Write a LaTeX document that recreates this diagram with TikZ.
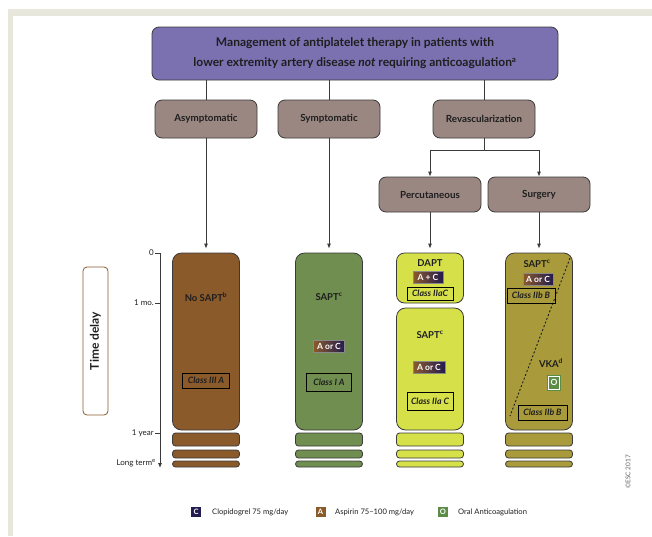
\documentclass[tikz,border=0pt]{standalone}
\usepackage{fontspec}
\setmainfont{Lato}
\usetikzlibrary{arrows.meta}
\definecolor{titlepurple}{HTML}{7B71B1}
\definecolor{taupe}{HTML}{9A8782}
\definecolor{brownc}{HTML}{8B5A2B}
\definecolor{greenc}{HTML}{6F8E50}
\definecolor{yellowc}{HTML}{D6E14A}
\definecolor{olivec}{HTML}{A99B3B}
\definecolor{navyc}{HTML}{231C4F}
\definecolor{legendgreen}{HTML}{5C8C46}
\definecolor{framec}{HTML}{E7E8DB}
\definecolor{edgec}{HTML}{3A3A3A}
\definecolor{textc}{HTML}{1E1E1E}
\tikzset{
  basebox/.style={draw=edgec, line width=0.8pt, rounded corners=7pt, inner sep=0pt, text=textc, align=center},
  titlebox/.style={basebox, fill=titlepurple, minimum width=406pt, minimum height=53pt, font=\bfseries\fontsize{12}{20}\selectfont},
  catbox/.style={basebox, fill=taupe, minimum width=102pt, minimum height=38pt, font=\bfseries\fontsize{9.8}{11}\selectfont},
  subbox/.style={catbox, minimum height=35pt},
  colbox/.style={basebox, rounded corners=9pt, minimum width=67pt},
  stripe/.style={basebox, rounded corners=3pt, minimum width=67pt},
  coltext/.style={font=\bfseries\fontsize{9.5}{10}\selectfont, text=textc, inner sep=0pt},
  classbox/.style={draw=black, line width=0.8pt, inner sep=0pt, font=\bfseries\itshape\fontsize{8.8}{9}\selectfont, text=textc},
  badge/.style={draw=edgec!60, line width=0.4pt, inner sep=0pt, text=white, font=\bfseries\fontsize{8.5}{9}\selectfont, left color=brownc, middle color=navyc, right color=navyc, minimum height=12pt},
  legbox/.style={inner sep=0pt, minimum width=10pt, minimum height=10pt, text=white, font=\bfseries\fontsize{7.5}{8}\selectfont},
  legtext/.style={inner sep=0pt, anchor=west, font=\fontsize{7.6}{9}\selectfont, text=textc},
  axlabel/.style={inner sep=0pt, anchor=east, font=\fontsize{8}{9}\selectfont, text=textc},
  link/.style={draw=edgec, line width=0.8pt},
  arrow/.style={link, -{Latex[length=5pt,width=4pt]}}
}
\begin{document}
\begin{tikzpicture}[x=1pt,y=-1pt]
\useasboundingbox (0,0) rectangle (652,536);
\fill[framec] (8,9) rectangle (652,16);
\fill[framec] (8,9) rectangle (13,536);

% title and categories
\node[titlebox] (title) at (355,53.5) {Management of antiplatelet therapy in patients with\\lower extremity artery disease \textit{not} requiring anticoagulation\textsuperscript{a}};
\node[catbox] (asym) at (206,119) {Asymptomatic};
\node[catbox] (symp) at (329,119) {Symptomatic};
\node[catbox] (revasc) at (484,119) {Revascularization};
\node[subbox] (perc) at (430,194.5) {Percutaneous};
\node[subbox] (surg) at (539,194.5) {Surgery};

\draw[link] (title.south -| asym.north) -- (asym.north);
\draw[link] (title.south -| symp.north) -- (symp.north);
\draw[link] (title.south -| revasc.north) -- (revasc.north);
\coordinate (split) at (484,150);
\draw[link] (revasc.south) -- (split);
\draw[arrow] (split) -| (perc.north);
\draw[arrow] (split) -| (surg.north);

% columns
\node[colbox, fill=brownc, minimum height=177pt] (nosapt) at (206,341.5) {};
\node[colbox, fill=greenc, minimum height=177pt] (sapt1) at (329,341.5) {};
\node[colbox, fill=yellowc, minimum height=50pt, rounded corners=8pt] (dapt) at (430,278) {};
\node[colbox, fill=yellowc, minimum height=122pt] (sapt2) at (430,369) {};
\node[colbox, fill=olivec, minimum height=177pt] (surgcol) at (539,341.5) {};

\draw[arrow, shorten >=4pt] (asym.south) -- (nosapt.north);
\draw[arrow, shorten >=4pt] (symp.south) -- (sapt1.north);
\draw[arrow, shorten >=4pt] (perc.south) -- (dapt.north);
\draw[arrow, shorten >=4pt] (surg.south) -- (surgcol.north);

% stripes
\foreach \cx/\col/\nm in {206/brownc/a, 329/greenc/b, 430/yellowc/c, 539/olivec/d}{
  \node[stripe, fill=\col, minimum height=13pt] (s1\nm) at (\cx,439.5) {};
  \node[stripe, fill=\col, minimum height=8pt] (s2\nm) at (\cx,454) {};
  \node[stripe, fill=\col, minimum height=6pt] (s3\nm) at (\cx,464) {};
}

% no SAPT column
\node[coltext] (t1) at (206,297) {No SAPT\textsuperscript{b}};
\node[classbox, minimum width=47pt, minimum height=15pt] (c1) at (206,380.5) {Class III A};

% symptomatic column
\node[coltext] (t2) at (329,297) {SAPT\textsuperscript{c}};
\node[badge, minimum width=31pt] (b2) at (329,346) {A or C};
\node[classbox, minimum width=45pt, minimum height=18pt] (c2) at (329,382.5) {Class I A};

% percutaneous column
\node[coltext] (t3) at (430,263.5) {DAPT};
\node[badge, minimum width=30pt] (b3) at (428,277.5) {A + C};
\node[classbox, minimum width=46pt, minimum height=13pt] (c3) at (430,293.5) {Class IIaC};
\node[coltext] (t4) at (430,335) {SAPT\textsuperscript{c}};
\node[badge, minimum width=32pt] (b4) at (429,367) {A or C};
\node[classbox, minimum width=46pt, minimum height=18pt] (c4) at (430,401) {Class IIa C};

% surgery column
\coordinate (dA) at (570,258);
\coordinate (dB) at (510,416);
\draw[line width=0.9pt, dash pattern=on 2pt off 2pt, textc] (dA) -- (dB);
\node[coltext] (t5) at (537,263.5) {SAPT\textsuperscript{c}};
\node[badge, minimum width=30pt] (b5) at (538,279) {A or C};
\node[classbox, minimum width=48pt, minimum height=15pt] (c5) at (531,295.5) {Class IIb B};
\node[coltext] (t6) at (551,363) {VKA\textsuperscript{d}};
\node[draw=white, line width=0.6pt, fill=legendgreen, text=white, inner sep=0pt, minimum width=11pt, minimum height=13pt, font=\bfseries\fontsize{8.5}{9}\selectfont, outer sep=1pt] (b6) at (554,382.5) {O};
\draw[legendgreen, line width=0.8pt] (b6.south west) rectangle (b6.north east);
\node[classbox, minimum width=49pt, minimum height=15pt] (c6) at (542.5,412.5) {Class IIb B};

% time axis
\coordinate (ax0) at (160,253);
\coordinate (ax1) at (160,468);
\draw[arrow] (ax0) -- (ax1);
\foreach \yy/\lab in {253/0, 303/1 mo., 433/1 year}{
  \draw[link] (155,\yy) -- (160,\yy);
  \node[axlabel] at (154,\yy) {\lab};
}
\node[axlabel] (lt) at (156,463) {Long term\textsuperscript{e}};

\node[draw=brownc, line width=0.8pt, fill=white, rounded corners=4pt, rotate=90, minimum width=148pt, minimum height=25pt, inner sep=0pt, font=\bfseries\fontsize{12}{12}\selectfont, text=textc] (tdelay) at (95.5,341) {Time delay};

% legend
\node[legbox, fill=navyc] (lc) at (196,512) {C};
\node[legtext] (lct) at (212,512) {Clopidogrel 75 mg/day};
\node[legbox, fill=brownc] (la) at (320.5,512) {A};
\node[legtext] (lat) at (335,512) {Aspirin 75–100 mg/day};
\node[legbox, fill=legendgreen] (lo) at (443,512) {O};
\node[legtext] (lot) at (458,512) {Oral Anticoagulation};

\node[rotate=90, inner sep=0pt, font=\fontsize{6.5}{7}\selectfont, text=textc!70] (copy) at (628,472) {©ESC 2017};
\end{tikzpicture}
\end{document}
